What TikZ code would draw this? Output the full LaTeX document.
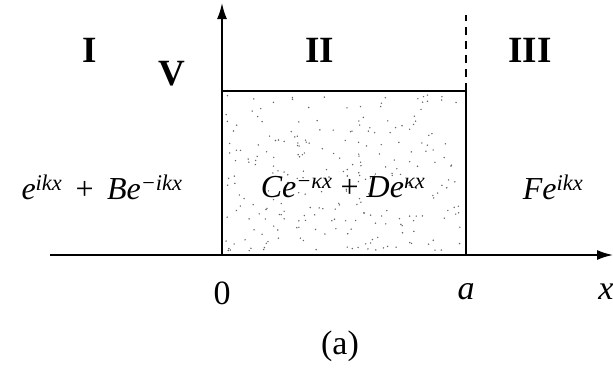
\documentclass[tikz,border=0pt]{standalone}
\usepackage{fontspec}
\setmainfont{Liberation Serif}
\usetikzlibrary{arrows.meta,positioning}
\newcommand{\expo}[1]{\textsuperscript{\textit{#1}}}
\tikzset{
  axis/.style={line width=1.8pt,-{Latex[length=16pt,width=10pt]}},
  wall/.style={line width=1.8pt},
  edgeline/.style={line width=1.4pt,dash pattern=on 8pt off 6pt},
  regionlabel/.style={font=\fontsize{37}{40}\selectfont\bfseries},
  wavelabel/.style={font=\fontsize{32}{35}\selectfont},
  ticklabel/.style={font=\fontsize{34}{38}\selectfont},
}
\begin{document}
\begin{tikzpicture}[x=1pt,y=1pt]
  \useasboundingbox (0,0) rectangle (613,368);

  % axes and barrier corners
  \coordinate (xstart) at (50,113);
  \coordinate (xend) at (613,113);
  \coordinate (origin) at (222,113);
  \coordinate (ytop) at (222,365);
  \coordinate (vtop) at (222,277);
  \coordinate (atop) at (466,277);
  \coordinate (abot) at (466,113);
  \coordinate (dashtop) at (466,353);

  % stippled barrier
  \pgfmathsetseed{11}
  \foreach \i in {1,...,260}{
    \pgfmathsetmacro{\dx}{226+236*rnd}
    \pgfmathsetmacro{\dy}{117+156*rnd}
    \fill[black!60] (\dx,\dy) circle (0.8pt);
  }

  \draw[axis] (xstart) -- (xend);
  \draw[axis] (origin) -- (ytop);
  \draw[wall] (vtop) -- (atop) -- (abot);
  \draw[edgeline] (atop) -- (dashtop);

  % labels
  \node[regionlabel] (one) at (90,318) {I};
  \node[regionlabel] (two) at (320,318) {II};
  \node[regionlabel] (three) at (530,318) {III};
  \node[regionlabel] (vlabel) at (172,294) {V};

  \node[wavelabel] (waveI) at (102,181) {\textit{e}\expo{ikx}\, + \,\textit{Be}\expo{−ikx}};
  \node[wavelabel] (waveII) at (343,181) {\textit{Ce}\expo{−κx} + \textit{De}\expo{κx}};
  \node[wavelabel] (waveIII) at (553,181) {\textit{Fe}\expo{ikx}};

  \node[ticklabel] (zero) at (222,75) {0};
  \node[ticklabel] (alabel) at (466,76) {\textit{a}};
  \node[ticklabel] (xlabel) at (606,76) {\textit{x}};
  \node[ticklabel] (caption) at (340,22) {(a)};
\end{tikzpicture}
\end{document}
